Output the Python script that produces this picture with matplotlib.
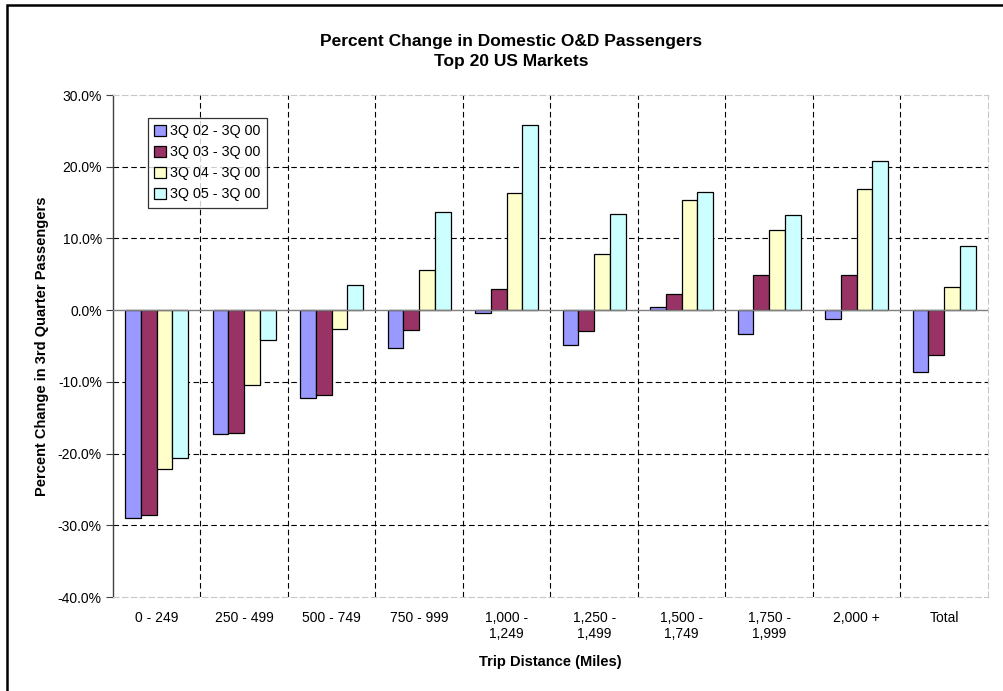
import numpy as np
import matplotlib.pyplot as plt
from matplotlib.patches import Rectangle
from matplotlib.ticker import FuncFormatter

plt.rcParams['font.family'] = ['Liberation Sans', 'DejaVu Sans']

# categorias y valores (% de cambio)
categorias = ['0 - 249', '250 - 499', '500 - 749', '750 - 999', '1,000 -\n1,249',
              '1,250 -\n1,499', '1,500 -\n1,749', '1,750 -\n1,999', '2,000 +', 'Total']
series = ['3Q 02 - 3Q 00', '3Q 03 - 3Q 00', '3Q 04 - 3Q 00', '3Q 05 - 3Q 00']
q02 = [-29.0, -17.3, -12.2, -5.3, -0.4, -4.9, 0.4, -3.3, -1.3, -8.6]
q03 = [-28.6, -17.1, -11.8, -2.8, 3.0, -2.9, 2.3, 4.9, 4.9, -6.2]
q04 = [-22.2, -10.4, -2.6, 5.6, 16.3, 7.8, 15.3, 11.2, 16.9, 3.2]
q05 = [-20.6, -4.2, 3.5, 13.7, 25.8, 13.4, 16.5, 13.2, 20.8, 8.9]
colores = ['#9999FF', '#993366', '#FFFFCC', '#CCFFFF']

fig = plt.figure(figsize=(10.04, 6.91), dpi=100)
ax = fig.add_axes([0.1125, 0.136, 0.8715, 0.7265])

x = np.arange(len(categorias))
w = 0.18
for i, (vals, col, nom) in enumerate(zip([q02, q03, q04, q05], colores, series)):
    ax.bar(x + (i - 1.5) * w, vals, w, color=col, edgecolor='black', linewidth=0.9,
           label=nom, zorder=3)

ax.set_xlim(-0.5, len(categorias) - 0.5)
ax.set_ylim(-40, 30)
ax.set_yticks(np.arange(-40, 31, 10))
ax.yaxis.set_major_formatter(FuncFormatter(lambda v, p: f'{v:.1f}%'))
ax.set_xticks(x)
ax.set_xticklabels(categorias, fontsize=10)
ax.tick_params(axis='x', length=0, pad=10)
ax.tick_params(axis='y', length=5, direction='out', labelsize=10, color='#404040', pad=3)

# rejilla
dash = (0, (5, 3))
for yv in [-30, -20, -10, 10, 20]:
    ax.axhline(yv, color='black', linewidth=0.8, linestyle=dash, zorder=1)
for xv in np.arange(0.5, len(categorias) - 1, 1):
    ax.axvline(xv, color='black', linewidth=0.8, linestyle=dash, zorder=1)
ax.axhline(0, color='#808080', linewidth=1.0, zorder=4)

for s in ['top', 'right', 'bottom']:
    ax.spines[s].set_color('#c8c8c8')
    ax.spines[s].set_linestyle(dash)
    ax.spines[s].set_linewidth(0.8)
ax.spines['left'].set_color('#404040')
ax.spines['left'].set_linewidth(1.0)

ax.set_xlabel('Trip Distance (Miles)', fontsize=10.5, fontweight='bold', labelpad=10)
ax.set_ylabel('Percent Change in 3rd Quarter Passengers', fontsize=10.5,
              fontweight='bold', labelpad=6)

fig.text(0.509, 0.925, 'Percent Change in Domestic O&D Passengers\nTop 20 US Markets',
         ha='center', va='center', fontsize=12.5, fontweight='bold', linespacing=1.4)

leg = ax.legend(loc='upper left', bbox_to_anchor=(0.04, 0.955), fontsize=10.3,
                frameon=True, fancybox=False, shadow=False, handlelength=0.8,
                handleheight=0.8, handletextpad=0.3, labelspacing=0.5,
                borderpad=0.45, borderaxespad=0)
leg.get_frame().set_edgecolor('black')
leg.get_frame().set_linewidth(0.9)

# marco exterior
fig.patches.append(Rectangle((0.007, -0.02), 1.1, 1.013, transform=fig.transFigure,
                             fill=False, edgecolor='black', linewidth=1.8))

fig.savefig('out.png', dpi=100)
